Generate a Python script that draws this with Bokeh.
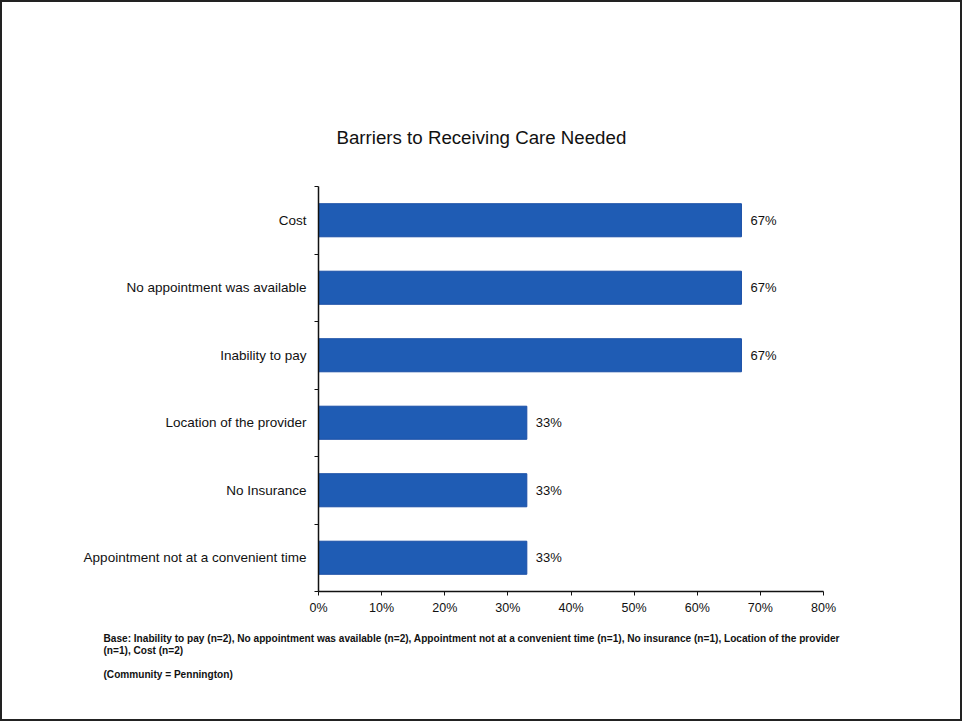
from bokeh.plotting import figure
from bokeh.models import ColumnDataSource, FixedTicker, PrintfTickFormatter, Title, Range1d
from bokeh.core.properties import value
from bokeh.embed import file_html
from bokeh.resources import INLINE

title_text = "Barriers to Receiving Care Needed"
categories = ["Cost", "No appointment was available", "Inability to pay",
              "Location of the provider", "No Insurance", "Appointment not at a convenient time"]
values = [67, 67, 67, 33, 33, 33]
value_labels = ["67%", "67%", "67%", "33%", "33%", "33%"]
x_ticks = [0, 10, 20, 30, 40, 50, 60, 70, 80]
footer_lines = [
    "Base: Inability to pay (n=2), No appointment was available (n=2), Appointment not at a convenient time (n=1), No insurance (n=1), Location of the provider",
    "(n=1), Cost (n=2)",
    "",
    "(Community = Pennington)",
]

n = len(categories)
ypos = [n - i - 0.5 for i in range(n)]
src = ColumnDataSource(dict(y=ypos, v=values, lab=value_labels))

FONT = "Liberation Sans"

p = figure(width=962, height=721, output_backend="svg", toolbar_location=None,
           x_range=Range1d(0, 80), y_range=Range1d(0, n),
           min_border_left=316, min_border_right=141, min_border_top=184, min_border_bottom=132)
p.styles = {"border": "2px solid #222"}
p.outline_line_color = None
p.xgrid.visible = False
p.ygrid.visible = False

p.hbar(y="y", right="v", left=0, height=0.49, source=src,
       fill_color="#1f5cb4", line_color="#1a4ea6", line_width=1)

p.text(x="v", y="y", text="lab", source=src, x_offset=9, text_baseline="middle",
       text_align="left", text_font_size="13px", text_color="#111",
       text_font=value(FONT))

# x axis
p.xaxis.ticker = FixedTicker(ticks=x_ticks)
p.xaxis.formatter = PrintfTickFormatter(format="%d%%")
p.xaxis.axis_line_color = "#111"
p.xaxis.axis_line_width = 1.5
p.xaxis.major_tick_line_color = "#111"
p.xaxis.major_tick_out = 4
p.xaxis.major_tick_in = 0
p.xaxis.minor_tick_line_color = None
p.xaxis.major_label_text_font = FONT
p.xaxis.major_label_text_font_size = "12.5px"
p.xaxis.major_label_text_color = "#111"
p.xaxis.major_label_standoff = 5

# y axis: labels at centers, ticks at boundaries
p.yaxis.ticker = FixedTicker(ticks=ypos, minor_ticks=list(range(n + 1)))
p.yaxis.major_label_overrides = {y: c for y, c in zip(ypos, categories)}
p.yaxis.axis_line_color = "#111"
p.yaxis.axis_line_width = 1.5
p.yaxis.major_tick_line_color = None
p.yaxis.major_tick_out = 0
p.yaxis.major_tick_in = 0
p.yaxis.minor_tick_line_color = "#111"
p.yaxis.minor_tick_out = 4
p.yaxis.minor_tick_in = 0
p.yaxis.major_label_text_font = FONT
p.yaxis.major_label_text_font_size = "13.5px"
p.yaxis.major_label_text_color = "#111"
p.yaxis.major_label_standoff = 8

p.add_layout(Title(text=title_text, align="left", offset=18, standoff=78,
                   text_font=FONT, text_font_size="18.7px", text_font_style="normal",
                   text_color="#111"), "above")

p.add_layout(Title(text="\n".join(footer_lines), align="left", offset=-215, standoff=27,
                   text_font=FONT, text_font_size="10.1px", text_font_style="bold",
                   text_line_height=1.08, text_color="#111"), "below")

open("out.html", "w").write(file_html(p, INLINE))
